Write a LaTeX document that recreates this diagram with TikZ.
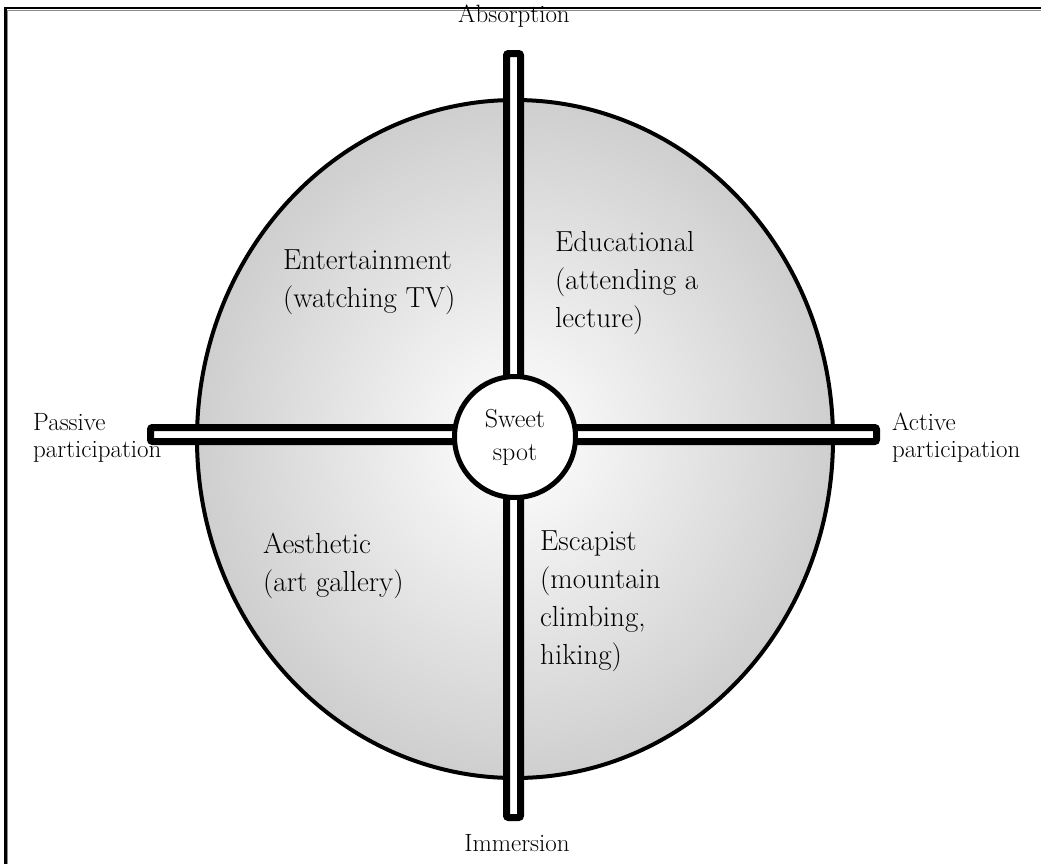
\documentclass[tikz,border=0pt]{standalone}
\usepackage{tikz}
\usetikzlibrary{positioning}
\tikzset{
    quadtext/.style={anchor=north west,inner sep=0pt,align=left,font=\fontsize{29}{38}\selectfont},
    axistext/.style={inner sep=0pt,align=left,font=\fontsize{25}{27}\selectfont},
    bar/.style={draw=black,fill=white,line width=7pt,rounded corners=2pt}
}
\begin{document}
\begin{tikzpicture}[x=1pt,y=-1pt]
    \useasboundingbox (0,0) rectangle (1041,863);
    \draw [line width=2.5pt] (1045,8) -- (5.5,8) -- (5.5,867);
    \draw [line width=1pt,color=black!45] (1045,10.2) -- (7.7,10.2) -- (7.7,867);
    \shade [inner color=white,outer color=black!19] (515,439) ellipse [x radius=318,y radius=339];
    \draw [line width=4pt] (515,439) ellipse [x radius=318,y radius=339];
    \draw [bar] (506.5,53.5) rectangle (520.5,817.5);
    \draw [bar] (150.5,427.5) rectangle (876.5,441.5);
    \node [circle,draw,fill=white,line width=5pt,minimum size=121pt,inner sep=0pt,align=center,
        font=\fontsize{26}{33}\selectfont] (sweet) at (515,437) {Sweet\\spot};
    \node [axistext,anchor=north] (absorption) at (514,5) {Absorption};
    \node [axistext,anchor=north] (immersion) at (517,834) {Immersion};
    \node [axistext,anchor=north west] (passive) at (33,413) {Passive\\participation};
    \node [axistext,anchor=north west] (active) at (892,413) {Active\\participation};
    \node [quadtext] (entertain) at (283,250) {Entertainment\\(watching TV)};
    \node [quadtext] (educate) at (555,231) {Educational\\(attending a\\lecture)};
    \node [quadtext] (aesthetic) at (263,533) {Aesthetic\\(art gallery)};
    \node [quadtext] (escape) at (540,531) {Escapist\\(mountain\\climbing,\\hiking)};
\end{tikzpicture}
\end{document}
